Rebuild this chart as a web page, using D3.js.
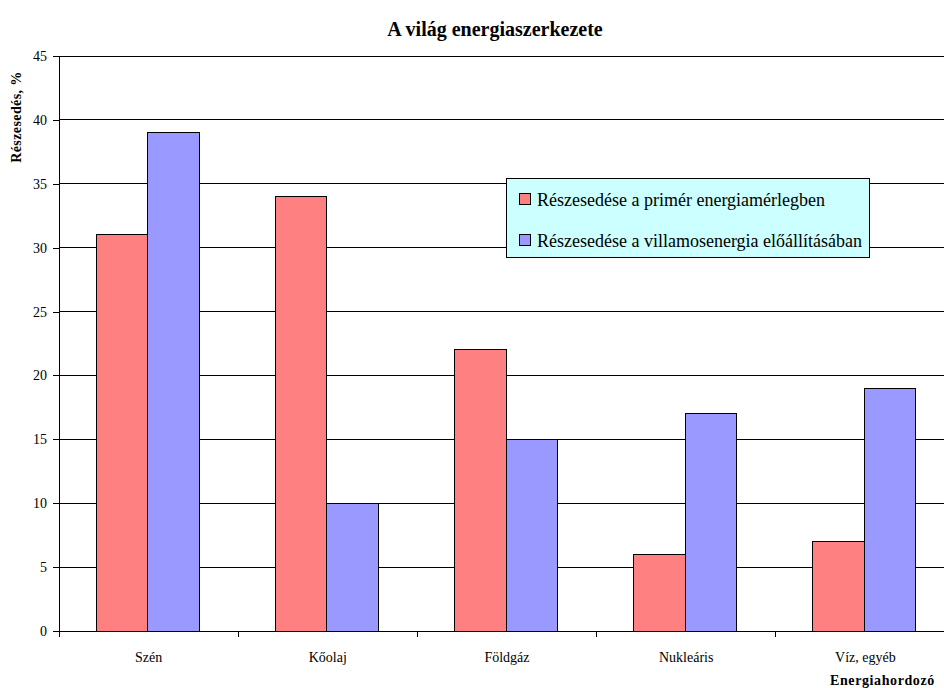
<!DOCTYPE html>
<html>
<head>
<meta charset="utf-8">
<script src="https://cdn.jsdelivr.net/npm/d3@7"></script>
<style>
  body { margin: 0; background: #fff; }
  svg { display: block; }
  svg text { font-family: "Liberation Serif", "Times New Roman", serif; fill: #000; }
</style>
</head>
<body>
<div id="chart"></div>
<script>
// Chart data
const categories = ['Szén', 'Kőolaj', 'Földgáz', 'Nukleáris', 'Víz, egyéb'];
const seriesNames = ['Részesedése a primér energiamérlegben', 'Részesedése a villamosenergia előállításában'];
const primer = [31, 34, 22, 6, 7];
const villamos = [39, 10, 15, 17, 19];
const yTicks = [0, 5, 10, 15, 20, 25, 30, 35, 40, 45];
const colors = ['#FF8080', '#9999FF'];

let w = 944, h = 688,
  margin = {top: 56, right: -11, bottom: 57, left: 59},
  plotW = w - margin.left - margin.right, // plot runs past the right edge
  plotH = h - margin.top - margin.bottom;

let svg = d3.select('#chart').append('svg')
  .attr('width', w)
  .attr('height', h);

let g = svg.append('g')
  .attr('transform', 'translate(' + margin.left + ',' + margin.top + ')');

// Scales
let x = d3.scaleBand().domain(categories).range([0, plotW]);
let x1 = d3.scaleBand().domain([0, 1]).range([x.bandwidth() * 0.207, x.bandwidth() * 0.782]);
let y = d3.scaleLinear().domain([0, 45]).range([plotH, 0]);

// Gridlines
g.selectAll('.grid').data(yTicks.filter(t => t > 0)).enter().append('line')
  .attr('x1', 0).attr('x2', plotW)
  .attr('y1', d => y(d)).attr('y2', d => y(d))
  .attr('stroke', '#000').attr('stroke-width', 1).attr('shape-rendering', 'crispEdges');

// Bars
let rows = categories.map((c, i) => ({cat: c, vals: [primer[i], villamos[i]]}));
let groups = g.selectAll('.grp').data(rows).enter().append('g')
  .attr('transform', d => 'translate(' + x(d.cat) + ',0)');
groups.selectAll('rect').data(d => d.vals).enter().append('rect')
  .attr('x', (d, i) => x1(i))
  .attr('width', x1.bandwidth())
  .attr('y', d => y(d))
  .attr('height', d => plotH - y(d))
  .attr('fill', (d, i) => colors[i])
  .attr('stroke', '#000').attr('stroke-width', 1).attr('shape-rendering', 'crispEdges');

// Y axis
let yAxis = g.append('g').call(d3.axisLeft(y).tickValues(yTicks).tickSize(6).tickPadding(6));
yAxis.attr('font-family', null);
yAxis.select('.domain').attr('shape-rendering', 'crispEdges');
yAxis.selectAll('line').attr('shape-rendering', 'crispEdges');
yAxis.selectAll('text').attr('font-size', 14);

// X axis with ticks at category boundaries
let xAxis = g.append('g').attr('transform', 'translate(0,' + plotH + ')');
xAxis.append('line').attr('x1', -6).attr('x2', plotW).attr('stroke', '#000').attr('shape-rendering', 'crispEdges');
xAxis.selectAll('.tk').data(categories).enter().append('line')
  .attr('x1', d => x(d)).attr('x2', d => x(d))
  .attr('y1', 0).attr('y2', 6)
  .attr('stroke', '#000').attr('shape-rendering', 'crispEdges');
xAxis.selectAll('.lbl').data(categories).enter().append('text')
  .attr('x', d => x(d) + x.bandwidth() / 2)
  .attr('y', 31)
  .attr('text-anchor', 'middle')
  .attr('font-size', 14)
  .text(d => d);

// Title
svg.append('text')
  .attr('x', 495).attr('y', 36)
  .attr('text-anchor', 'middle')
  .attr('font-size', 20).attr('font-weight', 'bold')
  .text('A világ energiaszerkezete');

// Axis titles
svg.append('text')
  .attr('transform', 'translate(21,117) rotate(-90)')
  .attr('text-anchor', 'middle')
  .attr('font-size', 14).attr('font-weight', 'bold')
  .attr('letter-spacing', 0.4)
  .text('Részesedés, %');

svg.append('text')
  .attr('x', 830).attr('y', 685)
  .attr('font-size', 14).attr('font-weight', 'bold')
  .attr('letter-spacing', 0.6)
  .text('Energiahordozó');

// Legend
let legend = svg.append('g').attr('transform', 'translate(506,178)');
legend.append('rect')
  .attr('width', 363).attr('height', 79)
  .attr('fill', '#CCFFFF').attr('stroke', '#000').attr('shape-rendering', 'crispEdges');
seriesNames.forEach((s, i) => {
  let row = legend.append('g').attr('transform', 'translate(13,' + (28 + i * 41) + ')');
  row.append('rect')
    .attr('x', 0).attr('y', -13).attr('width', 11).attr('height', 11)
    .attr('fill', colors[i]).attr('stroke', '#000').attr('shape-rendering', 'crispEdges');
  row.append('text')
    .attr('x', 18).attr('y', 0)
    .attr('font-size', 18)
    .text(s);
});
</script>
</body>
</html>
